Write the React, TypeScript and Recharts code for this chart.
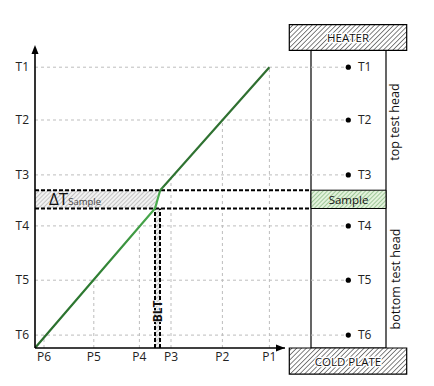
import React from 'react';
import {
  LineChart, Line, XAxis, YAxis, ReferenceLine, ReferenceArea, ReferenceDot,
} from 'recharts';

// sensor ids, positions (P) and temperatures (T) of the measuring points, index 0 = sensor 1
const sensorIds = ['1', '2', '3', '4', '5', '6'];
const pValues = [117.2, 93.7, 68, 52.2, 29.4, 4.5];
const tValues = [93.6, 76, 57.7, 40.7, 22.6, 4.3];

// temperature profile through the stack
const profileP = [0, 60, 62.6, 117.2];
const profileT = [0, 46.5, 52.6, 93.6];

// sample temperature band and bond-line (BLT) band
const sampleBand = [46.5, 52.6];
const bltBand = [60, 62.5];
const bltLabelY = 12.2;

// right-hand schematic of the test stand
const columnX = [138, 175.5];
const columnTop = 99.2;
const heaterX = [127.15, 185.85];
const heaterY = [99.2, 107.8];
const coldPlateY = [-8.7, 0];
const sensorX = 156.65;
const headLabelX = 180;
const topHeadY = 75.3;
const bottomHeadY = 23;

const data = profileP.map((p, i) => ({ p, t: profileT[i] }));

const FONT = '"Open Sans", "Noto Sans", sans-serif';

const centerText = (txt: string, size: number, extra: any = {}) => (props: any) => {
  const vb = props.viewBox || {};
  const cx = vb.x + vb.width / 2;
  const cy = vb.y + vb.height / 2;
  return (
    <text
      x={cx}
      y={cy}
      textAnchor="middle"
      dominantBaseline="central"
      fontFamily={FONT}
      fontSize={size}
      fill="#111"
      stroke="#fff"
      strokeWidth={2.5}
      paintOrder="stroke"
      {...extra}
    >
      {txt}
    </text>
  );
};

const rotatedText = (txt: string, size: number, bold = false, halo = false) => (props: any) => {
  const vb = props.viewBox || {};
  const cx = vb.x + (vb.width || 0) / 2;
  const cy = vb.y + (vb.height || 0) / 2;
  return (
    <text
      x={cx}
      y={cy}
      transform={`rotate(-90 ${cx} ${cy})`}
      textAnchor="middle"
      dominantBaseline="central"
      fontFamily={FONT}
      fontSize={size}
      fontWeight={bold ? 700 : 400}
      fill="#111"
      stroke={halo ? '#fff' : 'none'}
      strokeWidth={halo ? 1.6 : 0}
      paintOrder="stroke"
    >
      {txt}
    </text>
  );
};

const deltaLabel = (props: any) => {
  const vb = props.viewBox || {};
  const x = vb.x + 14;
  const y = vb.y + vb.height / 2 + 6;
  return (
    <text x={x} y={y} fontFamily={FONT} fill="#111">
      <tspan fontSize={17}>ΔT</tspan>
      <tspan fontSize={9.5} fill="#444">Sample</tspan>
    </text>
  );
};

const arrowRight = (props: any) => {
  const { cx, cy } = props;
  return <polygon points={`${cx},${cy} ${cx - 9},${cy - 3.5} ${cx - 9},${cy + 3.5}`} fill="#000" />;
};
const arrowUp = (props: any) => {
  const { cx, cy } = props;
  return <polygon points={`${cx},${cy} ${cx - 3.5},${cy + 9} ${cx + 3.5},${cy + 9}`} fill="#000" />;
};

export default function App() {
  const pTick = (v: number) => {
    const i = pValues.indexOf(v);
    return i >= 0 ? 'P' + sensorIds[i] : '';
  };
  const tTick = (v: number) => {
    const i = tValues.indexOf(v);
    return i >= 0 ? 'T' + sensorIds[i] : '';
  };
  return (
    <div style={{ position: 'absolute', left: 0, top: 0, width: 434, height: 386, background: '#fff' }}>
      <LineChart width={434} height={386} data={data} margin={{ top: 48, right: 149, bottom: 0, left: 0 }}>
        <defs>
          <pattern id="hatchBlack" patternUnits="userSpaceOnUse" width="3.4" height="3.4" patternTransform="rotate(45)">
            <rect width="3.4" height="3.4" fill="#fff" />
            <line x1="0" y1="0" x2="0" y2="3.4" stroke="#1a1a1a" strokeWidth="1.1" />
          </pattern>
          <pattern id="hatchGray" patternUnits="userSpaceOnUse" width="3" height="3" patternTransform="rotate(45)">
            <rect width="3" height="3" fill="#f2f2f2" />
            <line x1="0" y1="0" x2="0" y2="3" stroke="#999" strokeWidth="1" />
          </pattern>
          <pattern id="hatchGreen" patternUnits="userSpaceOnUse" width="3" height="3" patternTransform="rotate(45)">
            <rect width="3" height="3" fill="#e3f2dc" />
            <line x1="0" y1="0" x2="0" y2="3" stroke="#5e9e58" strokeWidth="1" />
          </pattern>
          <linearGradient id="lineGrad" x1="0" y1="0" x2="0" y2="1">
            <stop offset="0" stopColor="#2f6e30" />
            <stop offset="0.42" stopColor="#2f7432" />
            <stop offset="0.46" stopColor="#4caf50" />
            <stop offset="0.56" stopColor="#43a047" />
            <stop offset="0.75" stopColor="#2e7d32" />
            <stop offset="1" stopColor="#2a6a2c" />
          </linearGradient>
        </defs>

        <XAxis
          dataKey="p"
          type="number"
          domain={[0, 125]}
          allowDataOverflow
          ticks={pValues}
          tickFormatter={pTick}
          tickLine={false}
          tickSize={0}
          tickMargin={4}
          height={38}
          axisLine={{ stroke: '#000', strokeWidth: 1.6 }}
          tick={{ fill: '#222', fontSize: 12, fontFamily: FONT }}
          interval={0}
        />
        <YAxis
          type="number"
          domain={[0, 100]}
          allowDataOverflow
          ticks={tValues}
          tickFormatter={tTick}
          tickLine={false}
          tickSize={0}
          tickMargin={6}
          width={35}
          axisLine={{ stroke: '#000', strokeWidth: 1.6 }}
          tick={{ fill: '#222', fontSize: 12, fontFamily: FONT }}
          interval={0}
        />

        {/* horizontal grid lines to sensor dots */}
        {tValues.map((t, i) => (
          <ReferenceLine
            key={'h' + i}
            segment={[{ x: 0, y: t }, { x: sensorX - 1.5, y: t }]}
            stroke="#bdbdbd"
            strokeDasharray="3 3"
            strokeWidth={1}
            ifOverflow="visible"
          />
        ))}
        {/* vertical grid lines up to matching temperature */}
        {pValues.map((p, i) => (
          <ReferenceLine
            key={'v' + i}
            segment={[{ x: p, y: 0 }, { x: p, y: tValues[i] }]}
            stroke="#bdbdbd"
            strokeDasharray="3 3"
            strokeWidth={1}
            ifOverflow="visible"
          />
        ))}

        {/* ΔT sample hatched band */}
        <ReferenceArea
          x1={0}
          x2={(bltBand[0] + bltBand[1]) / 2}
          y1={sampleBand[0]}
          y2={sampleBand[1]}
          fill="url(#hatchGray)"
          fillOpacity={1}
          stroke="none"
          ifOverflow="visible"
          label={{ content: deltaLabel }}
        />
        {/* BLT hatched band */}
        <ReferenceArea
          x1={bltBand[0]}
          x2={bltBand[1]}
          y1={0}
          y2={sampleBand[0]}
          fill="url(#hatchGray)"
          fillOpacity={1}
          stroke="none"
          ifOverflow="visible"
        />

        {/* test column */}
        <ReferenceArea
          x1={columnX[0]}
          x2={columnX[1]}
          y1={0}
          y2={columnTop}
          fill="none"
          fillOpacity={0}
          stroke="#000"
          strokeWidth={1.2}
          ifOverflow="visible"
        />
        <ReferenceArea
          x1={heaterX[0]}
          x2={heaterX[1]}
          y1={heaterY[0]}
          y2={heaterY[1]}
          fill="url(#hatchBlack)"
          fillOpacity={1}
          stroke="#000"
          strokeWidth={1.2}
          ifOverflow="visible"
          label={{ content: centerText('HEATER', 11.5) }}
        />
        <ReferenceArea
          x1={heaterX[0]}
          x2={heaterX[1]}
          y1={coldPlateY[0]}
          y2={coldPlateY[1]}
          fill="url(#hatchBlack)"
          fillOpacity={1}
          stroke="#000"
          strokeWidth={1.2}
          ifOverflow="visible"
          label={{ content: centerText('COLD PLATE', 11.5) }}
        />
        <ReferenceArea
          x1={columnX[0]}
          x2={columnX[1]}
          y1={sampleBand[0]}
          y2={sampleBand[1]}
          fill="url(#hatchGreen)"
          fillOpacity={1}
          stroke="#000"
          strokeWidth={1}
          ifOverflow="visible"
          label={{ content: centerText('Sample', 11.5, { stroke: 'none' }) }}
        />

        {/* sample band dashed boundaries */}
        {sampleBand.map((t, i) => (
          <ReferenceLine
            key={'sb' + i}
            segment={[{ x: 0, y: t }, { x: columnX[0], y: t }]}
            stroke="#000"
            strokeDasharray="4 2"
            strokeWidth={2}
            ifOverflow="visible"
          />
        ))}
        {bltBand.map((p, i) => (
          <ReferenceLine
            key={'bb' + i}
            segment={[{ x: p, y: 0 }, { x: p, y: sampleBand[0] }]}
            stroke="#000"
            strokeDasharray="4 2"
            strokeWidth={2}
            ifOverflow="visible"
          />
        ))}

        {/* sensor dots */}
        {tValues.map((t, i) => (
          <ReferenceDot
            key={'d' + i}
            x={sensorX}
            y={t}
            r={2.6}
            fill="#000"
            stroke="none"
            ifOverflow="visible"
            label={{ value: 'T' + sensorIds[i], position: 'right', offset: 7, fill: '#222', fontSize: 12, fontFamily: FONT }}
          />
        ))}

        <ReferenceDot
          x={headLabelX}
          y={topHeadY}
          r={0}
          fill="none"
          stroke="none"
          ifOverflow="visible"
          label={{ content: rotatedText('top test head', 12.5) }}
        />
        <ReferenceDot
          x={headLabelX}
          y={bottomHeadY}
          r={0}
          fill="none"
          stroke="none"
          ifOverflow="visible"
          label={{ content: rotatedText('bottom test head', 12.5) }}
        />

        {/* axis arrows */}
        <ReferenceDot x={125} y={0} r={0} ifOverflow="visible" shape={arrowRight} />
        <ReferenceDot x={0} y={101} r={0} ifOverflow="visible" shape={arrowUp} />

        <Line
          dataKey="t"
          type="linear"
          stroke="url(#lineGrad)"
          strokeWidth={2.2}
          dot={false}
          activeDot={false}
          isAnimationActive={false}
        />

        <ReferenceDot
          x={(bltBand[0] + bltBand[1]) / 2}
          y={bltLabelY}
          r={0}
          fill="none"
          stroke="none"
          ifOverflow="visible"
          label={{ content: rotatedText('BLT', 12, true, true) }}
        />
      </LineChart>
    </div>
  );
}
